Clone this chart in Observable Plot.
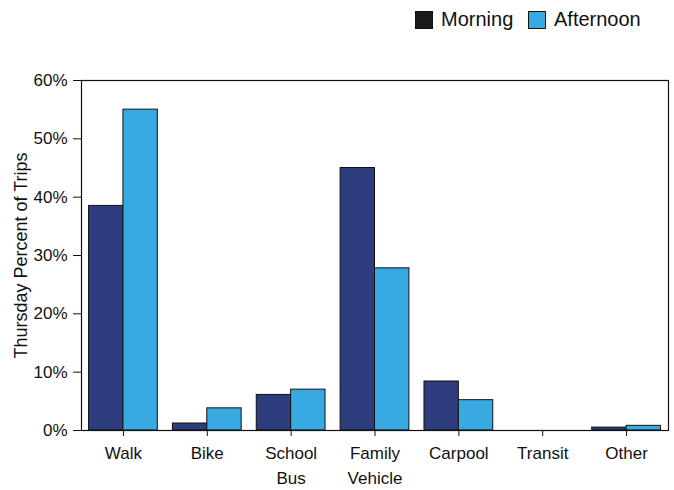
<!DOCTYPE html>
<html><head><meta charset="utf-8">
<script src="https://cdn.jsdelivr.net/npm/d3@7"></script>
<script src="https://cdn.jsdelivr.net/npm/@observablehq/plot@0.6"></script>
<style>
body{margin:0;background:#fff;font-family:"Liberation Sans",Arial,sans-serif;}
#legend{height:45px;position:relative;font-size:20px;color:#111;}
#legend .item{position:absolute;top:8px;display:flex;align-items:center;}
#legend .sw{width:16px;height:16px;border:1px solid #111;margin-right:8px;}
</style></head>
<body>
<div id="legend"></div>
<div id="chart"></div>
<script>
const categories = ["Walk","Bike","School\nBus","Family\nVehicle","Carpool","Transit","Other"];
const series = ["Morning","Afternoon"];
const morning = [38.5, 1.2, 6.1, 45.0, 8.4, 0.0, 0.5];
const afternoon = [55.0, 3.8, 7.0, 27.8, 5.2, 0.0, 0.8];
const colors = ["#2e3d7e","#38a9e1"];
const legendColors = ["#1a1a1a","#38a9e1"];
const yTicks = [0,10,20,30,40,50,60];

const half = 0.41;
const rows = [];
categories.forEach((c,i)=>{
  rows.push({i, series:"Morning", x1:i-half, x2:i, v:morning[i]});
  rows.push({i, series:"Afternoon", x1:i, x2:i+half, v:afternoon[i]});
});

const lg = document.getElementById("legend");
const pos = [415, 528];
series.forEach((s,k)=>{
  const d = document.createElement("div");
  d.className="item"; d.style.left=pos[k]+"px";
  d.innerHTML = `<span class="sw" style="background:${legendColors[k]}"></span><span>${s}</span>`;
  lg.appendChild(d);
});

const chart = Plot.plot({
  width: 674,
  height: 445,
  marginLeft: 81,
  marginRight: 6,
  marginTop: 35,
  marginBottom: 60,
  style: {fontFamily: '"Liberation Sans", Arial, sans-serif', fontSize: "16px", color: "#111"},
  x: {domain: [-0.5, categories.length - 0.5], axis: null},
  y: {domain: [0, 60], axis: null, label: null},
  color: {domain: series, range: colors},
  marks: [
    Plot.rectY(rows, {x1:"x1", x2:"x2", y:"v", fill:"series", stroke:"#111", strokeWidth:1}),
    Plot.frame({stroke:"#111", strokeWidth:1.2}),
    Plot.axisX(d3.range(categories.length), {
      tickSize: 6, tickFormat: i => categories[i], fontSize: 17, tickPadding: 5,
      lineHeight: 1.45, label: null
    }),
    Plot.axisY(yTicks, {tickSize: 8, tickFormat: d => d + "%", fontSize: 17, tickPadding: 6, label: null}),
    Plot.text(["Thursday Percent of Trips"], {
      frameAnchor: "left", dx: -60, rotate: -90, fontSize: 18, textAnchor: "middle",
      text: d => d
    })
  ]
});
document.getElementById("chart").appendChild(chart);
</script>
</body></html>
